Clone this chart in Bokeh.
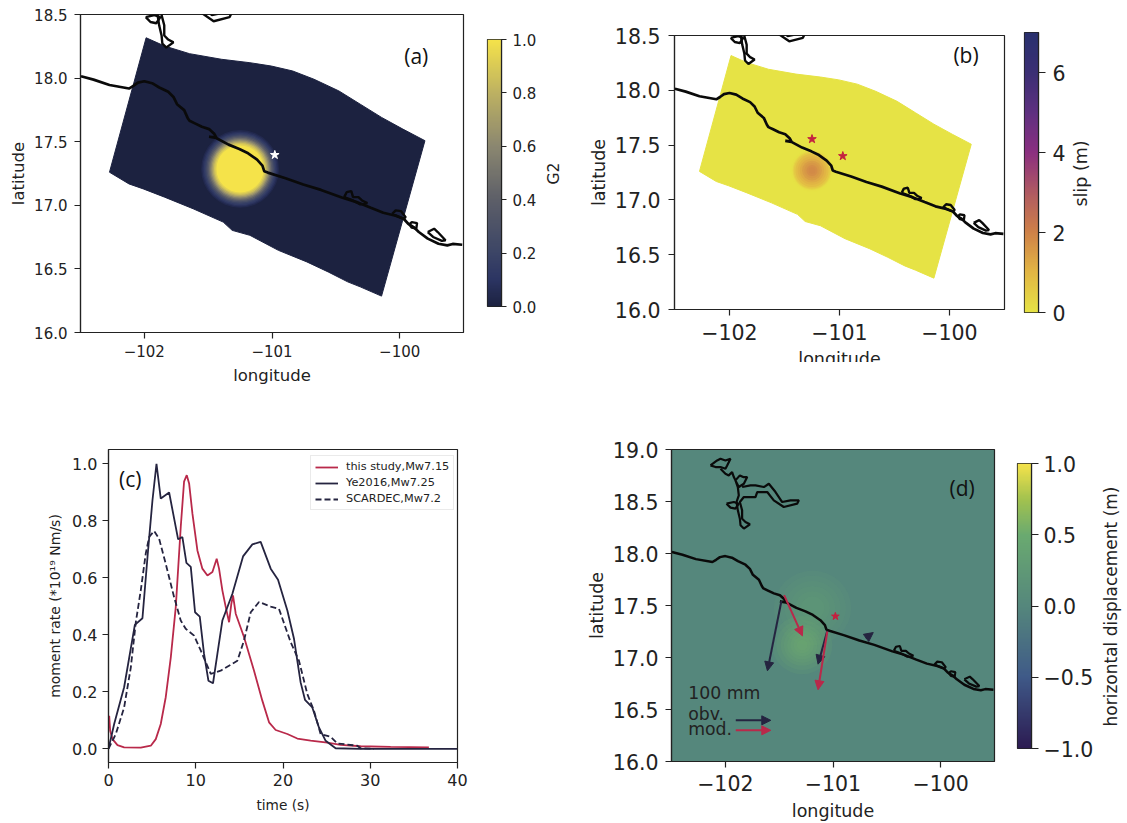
import math
import numpy as np
from bokeh.core.properties import value
from bokeh.embed import file_html
from bokeh.models import (Arrow, ColumnDataSource, Div, FixedTicker, Label, Legend, LegendItem,
                          LinearColorMapper, NormalHead)
from bokeh.plotting import figure
from bokeh.resources import INLINE
from bokeh.transform import transform

# ---------- data ----------
coast_lon = [-102.496,-102.398,-102.273,-102.12,-102.086,-102.05,-102.0,-101.939,-101.883,-101.813,-101.772,-101.744,
             -101.688,-101.66,-101.646,-101.604,-101.549,-101.493,-101.451,-101.437,-101.493,-101.437,-101.34,-101.256,
             -101.187,-101.117,-101.075,-101.061,-101.033,-100.894,-100.755,-100.616,-100.448,-100.337,-100.226,-100.128,
             -100.031,-99.969,-99.933,-99.891,-99.85,-99.78,-99.696,-99.627,-99.585,-99.51]
coast_lat = [18.014,17.988,17.946,17.918,17.939,17.965,17.975,17.96,17.926,17.892,17.852,17.795,
             17.748,17.685,17.664,17.644,17.617,17.599,17.56,17.534,17.539,17.529,17.477,17.443,
             17.409,17.359,17.312,17.268,17.257,17.213,17.163,17.121,17.059,17.025,16.98,16.941,
             16.918,16.894,16.855,16.829,16.79,16.738,16.698,16.685,16.696,16.69]
lagoon1_lon = [-100.435,-100.415,-100.379,-100.365,-100.323,-100.295,-100.253,-100.309,-100.365,-100.435]
lagoon1_lat = [17.064,17.103,17.111,17.064,17.064,17.038,17.017,17.007,17.038,17.064]
lagoon2_lon = [-100.058,-100.031,-99.989,-99.953,-99.969,-100.031,-100.058]
lagoon2_lat = [16.933,16.96,16.954,16.907,16.894,16.92,16.933]
lagoon3_lon = [-99.925,-99.905,-99.864,-99.87,-99.905,-99.925]
lagoon3_lat = [16.85,16.868,16.86,16.816,16.824,16.85]
lagoon4_lon = [-99.78,-99.73,-99.702,-99.641,-99.669,-99.738,-99.78]
lagoon4_lat = [16.79,16.816,16.79,16.725,16.72,16.751,16.79]
lake1_lon = [-102.138,-102.076,-102.045,-101.999,-101.952,-101.983,-101.999,-102.045,-102.091,-102.138]
lake1_lat = [18.847,18.895,18.911,18.895,18.911,18.847,18.815,18.831,18.831,18.847]
lake2_lon = [-102.045,-101.999,-101.968,-101.937,-101.921,-101.906,-101.865,-101.834,-101.797,-101.828,-101.875,-101.906,
             -101.884,-101.875,-101.896,-101.884,-101.865,-101.859,-101.828,-101.772,-101.813,-101.844,-101.844,-101.865,
             -101.828,-101.72,-101.704,-101.611,-101.55,-101.457,-101.333,-101.317,-101.395,-101.472,-101.534,-101.596,
             -101.642,-101.72,-101.766,-101.844]
lake2_lat = [18.815,18.767,18.751,18.783,18.735,18.703,18.751,18.735,18.735,18.671,18.639,18.703,
             18.639,18.559,18.495,18.415,18.335,18.272,18.24,18.281,18.303,18.335,18.415,18.495,
             18.543,18.543,18.591,18.591,18.511,18.447,18.479,18.511,18.511,18.495,18.591,18.671,
             18.639,18.655,18.655,18.639]
lake3_lon = [-101.989,-101.921,-101.875,-101.906,-101.952,-101.989]
lake3_lat = [18.479,18.495,18.479,18.431,18.441,18.479]

fault_lon = [-101.986,-101.841,-101.646,-101.396,-101.173,-101.006,-100.838,-100.671,-100.476,-100.309,-100.142,-99.975,-99.802,
             -100.142,-100.309,-100.407,-100.56,-100.727,-100.95,-101.173,-101.312,-101.382,-101.618,-101.841,-102.008,-102.12,-102.273]
fault_lat = [18.317,18.252,18.192,18.148,18.121,18.095,18.056,17.991,17.899,17.795,17.691,17.599,17.508,
             16.286,16.359,16.398,16.476,16.555,16.646,16.764,16.803,16.868,16.973,17.064,17.129,17.168,17.26]

g2_center = (-101.25, 17.286)
g2_radius = [.305,.295,.285,.275,.265,.255,.245,.235,.225,.215,.205,.195,.185]
g2_value = [.04,.08,.13,.19,.27,.36,.46,.56,.67,.77,.86,.93,1.0]

slip_center = (-101.25, 17.268)
slip_radius = [.195,.185,.175,.165,.15,.13,.11,.09,.07,.05,.03]
slip_value = [.03,.1,.35,.6,.85,1.05,1.25,1.45,1.6,1.75,1.85]

epic_lon = [-100.978]
epic_lat = [17.396]
hypo_b_lon = [-101.25, -100.97]
hypo_b_lat = [17.555, 17.4]

t_this = [0.08,0.19,0.46,1.03,1.79,3.7,4.85,5.42,5.99,6.56,7.14,7.71,8.28,8.66,8.97,9.24,9.62,10.19,10.76,11.34,11.91,
          12.4,12.67,13.05,13.44,13.82,14.08,14.27,14.58,15.53,16.68,17.63,18.4,19.16,20.5,21.64,23.17,25.08,26.6,28.9,32.33,36.72]
mr_this = [.116,.063,.034,.013,.005,.004,.011,.034,.087,.181,.321,.497,.778,.937,.96,.931,.825,.696,.632,.608,.62,
           .667,.632,.556,.497,.444,.509,.538,.474,.392,.274,.169,.093,.066,.052,.036,.029,.022,.014,.009,.007,.005]
t_ye = [0,.65,1.79,3.02,3.89,4.47,5.04,5.5,5.99,6.95,7.98,8.47,8.93,9.43,9.92,10.46,10.95,11.45,11.98,12.48,13.05,14.2,
        15.42,16.49,17.44,18.59,19.43,20.5,21.26,22.02,22.52,23.36,24.12,24.89,26.03,28.89,40]
mr_ye = [0,.087,.216,.435,.458,.673,.872,1.0,.878,.899,.735,.743,.652,.638,.479,.464,.333,.239,.23,.333,.45,.544,
         .675,.717,.726,.632,.593,.485,.386,.233,.172,.145,.075,.028,.002,0,0]
t_sc = [0,.84,1.79,2.56,3.13,3.7,4.27,4.66,5.23,5.8,6.56,7.52,8.28,8.85,9.81,10.57,11.72,12.86,14.77,15.53,16.3,17.25,
        18.59,19.54,20.88,21.83,22.79,23.55,24.31,25.46,26.22,28.51,28.89,30.42]
mr_sc = [0,.052,.145,.286,.444,.556,.685,.743,.764,.737,.649,.532,.45,.421,.397,.345,.263,.274,.309,.38,.479,.515,
         .499,.491,.374,.309,.192,.134,.052,.042,.019,.011,.002,0]

obv_x0 = [-101.479,-101.053,-100.697,-101.903]
obv_y0 = [17.543,17.256,17.185,16.396]
obv_x1 = [-101.609,-101.139,-100.626,-101.578]
obv_y1 = [16.872,16.936,17.24,16.396]
mod_x0 = [-101.454,-101.053,-101.903]
mod_y0 = [17.6,17.25,16.3]
mod_x1 = [-101.284,-101.139,-101.578]
mod_y1 = [17.208,16.69,16.3]

disp_blob1 = (-101.286, 17.12)
disp_radius1 = [.28,.24,.2,.17,.14,.11,.08,.05]
disp_blob2 = (-101.19, 17.476)
disp_radius2 = [.36,.31,.26,.21,.16,.11]

lon_ticks = [-102,-101,-100]
lat_ticks_ab = [16.0,16.5,17.0,17.5,18.0,18.5]
lat_ticks_d = [16.0,16.5,17.0,17.5,18.0,18.5,19.0]
t_ticks = [0,10,20,30,40]
mr_ticks = [0.0,0.2,0.4,0.6,0.8,1.0]
g2_ticks = [0.0,0.2,0.4,0.6,0.8,1.0]
slip_ticks = [0,2,4,6]
disp_ticks = [-1.0,-0.5,0.0,0.5,1.0]

# ---------- style ----------
FONT = "DejaVu Sans"
INK = "#222222"
NAVY = "#252440"
RED = "#b9294a"

def ramp(anchors, n=256):
    pos = np.array([a[0] for a in anchors], dtype=float)
    rgb = np.array([[int(a[1][i:i + 2], 16) for i in (1, 3, 5)] for a in anchors], dtype=float)
    xs = np.linspace(pos[0], pos[-1], n)
    return ["#%02x%02x%02x" % tuple(int(round(np.interp(x, pos, rgb[:, c]))) for c in range(3)) for x in xs]

pal_g2 = ramp([(0, "#1c2240"), (.1, "#2c3563"), (.2, "#3c4566"), (.4, "#5d5f68"), (.6, "#8b8770"), (.8, "#bdb162"), (1, "#f5e34a")])
pal_slip = ramp([(0, "#e6e345"), (1, "#e2b644"), (2, "#cf8148"), (3, "#b05a62"), (4, "#8b2f80"), (5, "#5f3080"), (6, "#3b2f74"), (7, "#29306e")])
pal_disp = ramp([(-1, "#2c1b52"), (-.5, "#3f5a88"), (0, "#55877c"), (.5, "#6aaa70"), (.75, "#a2c24f"), (1, "#f5e34a")])

def minus(v, fmt):
    return fmt % v if v >= 0 else "\u2212" + fmt % abs(v)

def style_axis(ax, ticks, fmt, tick_size, label_size, standoff=4, label_standoff=5, tick_out=6):
    ax.ticker = FixedTicker(ticks=list(ticks))
    ax.major_label_overrides = {t: minus(t, fmt) for t in ticks}
    ax.major_label_text_font = FONT
    ax.major_label_text_font_size = tick_size
    ax.major_label_text_color = INK
    ax.major_label_standoff = standoff
    ax.axis_label_text_font = FONT
    ax.axis_label_text_font_size = label_size
    ax.axis_label_text_font_style = "normal"
    ax.axis_label_text_color = INK
    ax.axis_label_standoff = label_standoff
    ax.axis_line_color = INK
    ax.axis_line_width = 1.2
    ax.major_tick_line_color = INK
    ax.major_tick_line_width = 1.2
    ax.major_tick_out = tick_out
    ax.major_tick_in = 0
    ax.minor_tick_line_color = None

def place(p, left, top):
    p.styles = {"position": "absolute", "left": f"{left}px", "top": f"{top}px"}
    return p

def panel(left, top, right, bottom, fl, ft, fr, fb, xr, yr):
    """(left, top, right, bottom) = canvas box; (fl, ft, fr, fb) = frame box, both in window pixels."""
    p = figure(width=right - left, height=bottom - top, x_range=xr, y_range=yr, toolbar_location=None, output_backend="svg",
               min_border_left=fl - left, min_border_right=right - fr, min_border_top=ft - top, min_border_bottom=bottom - fb)
    p.grid.visible = False
    p.outline_line_color = INK
    p.outline_line_width = 1.2
    p.background_fill_color = "white"
    return place(p, left, top)

def draw_coast(p, width=2.4):
    p.line(coast_lon, coast_lat, line_color="#0a0a0a", line_width=width + .3)
    for xs, ys in [(lagoon1_lon, lagoon1_lat), (lagoon2_lon, lagoon2_lat), (lagoon3_lon, lagoon3_lat), (lagoon4_lon, lagoon4_lat),
                   (lake1_lon, lake1_lat), (lake2_lon, lake2_lat), (lake3_lon, lake3_lat)]:
        p.line(xs, ys, line_color="#0a0a0a", line_width=width)

def colorbar(left, top, right, bottom, fl, ft, fr, fb, lo, hi, pal, ticks, fmt, tick_size, standoff, tick_out):
    p = figure(width=right - left, height=bottom - top, x_range=(0, 1), y_range=(lo, hi), toolbar_location=None, output_backend="svg",
               y_axis_location="right", x_axis_location=None,
               min_border_left=fl - left, min_border_right=right - fr, min_border_top=ft - top, min_border_bottom=bottom - fb)
    p.grid.visible = False
    p.outline_line_color = INK
    p.outline_line_width = 1.2
    grad = np.linspace(lo, hi, 256).reshape(-1, 1)
    p.image(image=[grad], x=0, y=lo, dw=1, dh=hi - lo, color_mapper=LinearColorMapper(palette=pal, low=lo, high=hi))
    style_axis(p.yaxis[0], ticks, fmt, tick_size, "12px", standoff=standoff, tick_out=tick_out)
    return place(p, left, top)

def bar_label(text, cx, cy, size, length):
    """An upward-reading colour bar title: right-hand axes in Bokeh can only centre a downward one."""
    w, h = 30, length
    p = figure(width=w, height=h, x_range=(0, 1), y_range=(0, 1), toolbar_location=None, output_backend="svg",
               x_axis_location=None, y_axis_location=None, min_border=0, background_fill_color=None,
               border_fill_color=None, outline_line_color=None)
    p.grid.visible = False
    p.text(x=[.5], y=[.5], text=[text], angle=math.pi / 2, text_align="center", text_baseline="middle",
           text_font=value(FONT), text_font_size=size, text_color=INK)
    return place(p, int(cx - w / 2), int(cy - h / 2))

def tag(p, text, x, y, size="21px", font="Open Sans"):
    p.add_layout(Label(x=x, y=y, text=text, text_font=font, text_font_size=size, text_color="#111111",
                       text_align="center", text_baseline="middle"))

# ---------- panel (a) ----------
a = panel(0, 0, 480, 400, 80, 14, 463, 332, (-102.5, -99.5), (16.0, 18.5))
a.patch(fault_lon, fault_lat, fill_color=pal_g2[0], line_color=pal_g2[0])
map_g2 = LinearColorMapper(palette=pal_g2, low=0, high=1)
src_a = ColumnDataSource(dict(x=[g2_center[0]] * len(g2_radius), y=[g2_center[1]] * len(g2_radius),
                              d=[2 * r for r in g2_radius], v=g2_value))
a.ellipse("x", "y", "d", "d", source=src_a, fill_color=transform("v", map_g2), line_color=None)
draw_coast(a)
a.scatter(epic_lon, epic_lat, marker="star", size=9, fill_color="white", line_color="white")
a.xaxis.axis_label = "longitude"
a.yaxis.axis_label = "latitude"
style_axis(a.xaxis[0], lon_ticks, "%d", "15px", "16.5px", standoff=6, label_standoff=6)
style_axis(a.yaxis[0], lat_ticks_ab, "%.1f", "15px", "16.5px", standoff=7, label_standoff=3)
tag(a, "(a)", -99.87, 18.17)

cb_a = colorbar(480, 0, 565, 400, 487, 39, 501, 306, 0, 1, pal_g2, g2_ticks, "%.1f", "15px", 6, 5)
lb_a = bar_label("G2", 553, 173, "15.5px", 60)

# ---------- panel (b) ----------
b = panel(565, 0, 1010, 400, 674, 35, 1004, 309, (-102.5, -99.5), (16.0, 18.5))
b.patch(fault_lon, fault_lat, fill_color=pal_slip[0], line_color=pal_slip[0])
map_slip = LinearColorMapper(palette=pal_slip, low=0, high=7)
src_b = ColumnDataSource(dict(x=[slip_center[0]] * len(slip_radius), y=[slip_center[1]] * len(slip_radius),
                              d=[2 * r for r in slip_radius], v=slip_value))
b.ellipse("x", "y", "d", "d", source=src_b, fill_color=transform("v", map_slip), line_color=None)
draw_coast(b)
b.scatter(hypo_b_lon, hypo_b_lat, marker="star", size=9, fill_color="#c4213f", line_color="#c4213f")
b.xaxis.axis_label = "longitude"
b.yaxis.axis_label = "latitude"
style_axis(b.xaxis[0], lon_ticks, "%d", "20.5px", "17.5px", standoff=8, label_standoff=6)
style_axis(b.yaxis[0], lat_ticks_ab, "%.1f", "20.5px", "17.5px", standoff=8, label_standoff=3)
tag(b, "(b)", -99.85, 18.32)

cover_b = Div(text="", width=260, height=30,
              styles={"position": "absolute", "left": "720px", "top": "357px", "background": "white", "z-index": "5"})

cb_b = colorbar(1010, 0, 1127, 400, 1024, 32, 1038, 312, 0, 7, pal_slip, slip_ticks, "%d", "20.5px", 7, 7)
lb_b = bar_label("slip (m)", 1080, 173, "17.5px", 90)

# ---------- panel (c) ----------
c = panel(0, 420, 570, 823, 108, 449, 457, 762, (0, 40), (-0.048, 1.05))
l1 = c.line(t_this, mr_this, line_color=RED, line_width=1.8)
l2 = c.line(t_ye, mr_ye, line_color=NAVY, line_width=1.8)
l3 = c.line(t_sc, mr_sc, line_color=NAVY, line_width=1.8, line_dash="6 3")
c.xaxis.axis_label = "time (s)"
c.yaxis.axis_label = "moment rate (*10\u00b9\u2079 Nm/s)"
style_axis(c.xaxis[0], t_ticks, "%d", "16px", "13.7px", standoff=5, label_standoff=8)
style_axis(c.yaxis[0], mr_ticks, "%.1f", "16px", "14px", standoff=5, label_standoff=6)
tag(c, "(c)", 2.5, 0.948)
leg = Legend(items=[LegendItem(label="this study,Mw7.15", renderers=[l1]),
                    LegendItem(label="Ye2016,Mw7.25", renderers=[l2]),
                    LegendItem(label="SCARDEC,Mw7.2", renderers=[l3])],
             location=(202, 252), label_text_font=FONT, label_text_font_size="11.3px", label_text_color=INK,
             glyph_width=23, glyph_height=12, label_height=12, spacing=3, padding=4, margin=0,
             border_line_color="#d5d5d5", background_fill_alpha=.8, label_standoff=8)
c.add_layout(leg, "center")

# ---------- panel (d) ----------
d = panel(570, 420, 1000, 823, 671, 449, 994, 762, (-102.5, -99.5), (16.0, 19.0))
d.background_fill_color = pal_disp[128]
for (bx, by), radii, alpha in [(disp_blob2, disp_radius2, .058), (disp_blob1, disp_radius1, .108)]:
    diam = [2 * r for r in radii]
    d.ellipse([bx] * len(radii), [by] * len(radii), diam, diam, fill_color="#74b670", fill_alpha=alpha, line_color=None)
draw_coast(d, 2.2)
def arrows(p, color, x0, y0, x1, y1):
    src = ColumnDataSource(dict(x0=x0, y0=y0, x1=x1, y1=y1))
    p.add_layout(Arrow(end=NormalHead(size=9, fill_color=color, line_color=color), x_start="x0", y_start="y0",
                       x_end="x1", y_end="y1", source=src, line_color=color, line_width=2))
arrows(d, NAVY, obv_x0, obv_y0, obv_x1, obv_y1)
arrows(d, RED, mod_x0, mod_y0, mod_x1, mod_y1)
d.scatter(epic_lon, epic_lat, marker="star", size=8, fill_color="#c4213f", line_color="#c4213f")
d.xaxis.axis_label = "longitude"
d.yaxis.axis_label = "latitude"
style_axis(d.xaxis[0], lon_ticks, "%d", "20.5px", "17.5px", standoff=7, label_standoff=7)
style_axis(d.yaxis[0], lat_ticks_d, "%.1f", "20.5px", "17.5px", standoff=7, label_standoff=3)
for txt, yy in [("100 mm", 16.66), ("obv.", 16.46), ("mod.", 16.31)]:
    d.add_layout(Label(x=-102.345, y=yy, text=txt, text_font=FONT, text_font_size="17.3px", text_color=INK,
                       text_align="left", text_baseline="alphabetic"))
tag(d, "(d)", -99.8, 18.63)

cb_d = colorbar(1000, 420, 1127, 823, 1017, 463, 1031, 748, -1, 1, pal_disp, disp_ticks, "%.1f", "20.5px", 5, 7)
lb_d = bar_label("horizontal displacement (m)", 1110, 606, "17px", 270)

roots = [a, cb_a, lb_a, b, cb_b, lb_b, cover_b, c, d, cb_d, lb_d]
open("out.html", "w").write(file_html(roots, INLINE))
